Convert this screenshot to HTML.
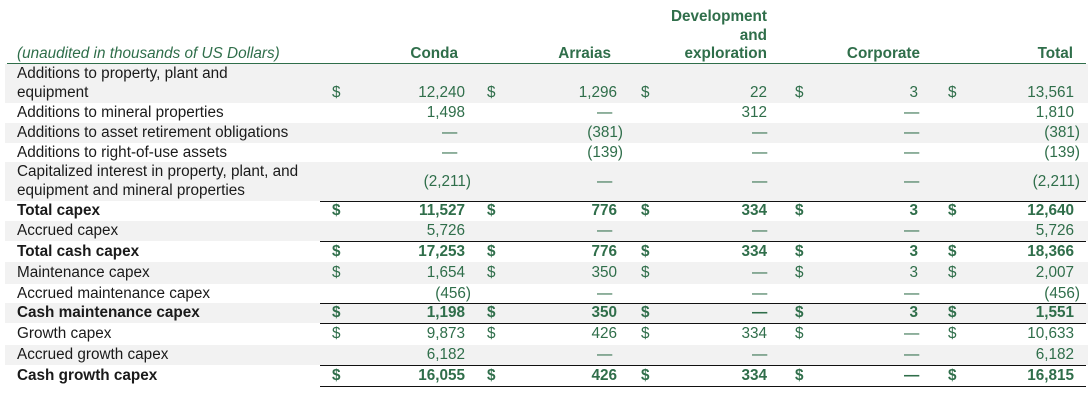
<!DOCTYPE html>
<html><head><meta charset="utf-8">
<style>
body{margin:0;width:1090px;height:400px;background:#fff;position:relative;overflow:hidden;font-family:"Liberation Sans",Arial,sans-serif;font-size:15.3px;}
.a{position:absolute;white-space:nowrap;line-height:18px;}
.g{color:#2f6e4a;}
.lab{color:#1a1a1a;}
.b{font-weight:bold;}
.bg{position:absolute;left:5px;width:1083px;background:#f2f2f2;}
.ln{position:absolute;height:1px;background:#111;}
</style></head>
<body>
<div id="t"></div>
<script>
const labels=["Additions to property, plant and|equipment","Additions to mineral properties","Additions to asset retirement obligations","Additions to right-of-use assets","Capitalized interest in property, plant, and|equipment and mineral properties","Total capex","Accrued capex","Total cash capex","Maintenance capex","Accrued maintenance capex","Cash maintenance capex","Growth capex","Accrued growth capex","Cash growth capex"];
const conda=["12,240","1,498","—","—","(2,211)","11,527","5,726","17,253","1,654","(456)","1,198","9,873","6,182","16,055"];
const arraias=["1,296","—","(381)","(139)","—","776","—","776","350","—","350","426","—","426"];
const devexp=["22","312","—","—","—","334","—","334","—","—","—","334","—","334"];
const corporate=["3","—","—","—","—","3","—","3","3","—","3","—","—","—"];
const total=["13,561","1,810","(381)","(139)","(2,211)","12,640","5,726","18,366","2,007","(456)","1,551","10,633","6,182","16,815"];
const dollarRows=[0,5,7,8,10,11,13];
const boldRows=[5,7,10,13];
const rowTop=[64,103,123,143,162,201,221,241,262,284,303,323,345,365];
const rowBot=[103,123,143,162,201,221,241,262,284,303,323,345,365,386];
const colRight=[465,617,767,918,1074];
const dashCenter=[450,605,760,912,1060];
const dollarX=[332,487,641,795,948];
const T=document.getElementById('t');
function add(cls,txt,style,name){const d=document.createElement('div');d.className=cls;d.textContent=txt;d.setAttribute('style',style);


T.appendChild(d);return d;}
add('a g','(unaudited in thousands of US Dollars)','left:17px;top:45px;font-style:italic;','units-note');
add('a g b','Conda','right:'+(1090-458)+'px;top:45px;','header-conda');
add('a g b','Arraias','right:'+(1090-611)+'px;top:45px;','header-arraias');
add('a g b','Development','right:'+(1090-767)+'px;top:8px;','header-development');
add('a g b','and','right:'+(1090-767)+'px;top:27px;','header-and');
add('a g b','exploration','right:'+(1090-767)+'px;top:45px;','header-exploration');
add('a g b','Corporate','right:'+(1090-920)+'px;top:45px;','header-corporate');
add('a g b','Total','right:'+(1090-1073)+'px;top:45px;','header-total');
add('ln','','left:7px;top:63px;width:1079px;background:#2f6e4a;','header-rule');
const cols=[conda,arraias,devexp,corporate,total];
const colNames=['conda','arraias','development','corporate','total'];
for(let i=0;i<labels.length;i++){
  const top=rowTop[i],bot=rowBot[i],h=bot-top;
  if(i%2===0) add('bg','','top:'+top+'px;height:'+h+'px;','row-background');
  const bold=boldRows.includes(i);
  const parts=labels[i].split('|');
  const valTop=parts.length>1&&i===0?top+h-19:(top+h/2-9);
  if(parts.length>1){
    add('a lab',parts[0],'left:17px;top:'+(top+1)+'px;','label-line1');
    add('a lab',parts[1],'left:17px;top:'+(top+20)+'px;','label-line2');
  } else add('a lab'+(bold?' b':''),parts[0],'left:17px;top:'+valTop+'px;','row-label');
  const vt=(i===4)?(top+h/2-9):valTop;
  for(let c=0;c<5;c++){
    const v=cols[c][i];
    if(dollarRows.includes(i)) add('a g'+(bold?' b':''),'$','left:'+dollarX[c]+'px;top:'+vt+'px;',colNames[c]+'-dollar');
    if(v==='—'){
      add('a g'+(bold?' b':''),'—','left:'+(dashCenter[c]-8)+'px;top:'+vt+'px;',colNames[c]+'-value');
    } else if(v.startsWith('(')){
      add('a g',v,'right:'+(1090-colRight[c]-6)+'px;top:'+vt+'px;',colNames[c]+'-value');
    } else add('a g'+(bold?' b':''),v,'right:'+(1090-colRight[c])+'px;top:'+vt+'px;',colNames[c]+'-value');
  }
  if(bold){
    add('ln','','left:320px;top:'+top+'px;width:766px;','total-top-rule');
    add('ln','','left:320px;top:'+bot+'px;width:766px;','total-bottom-rule');
  }
}
</script>
</body></html>
